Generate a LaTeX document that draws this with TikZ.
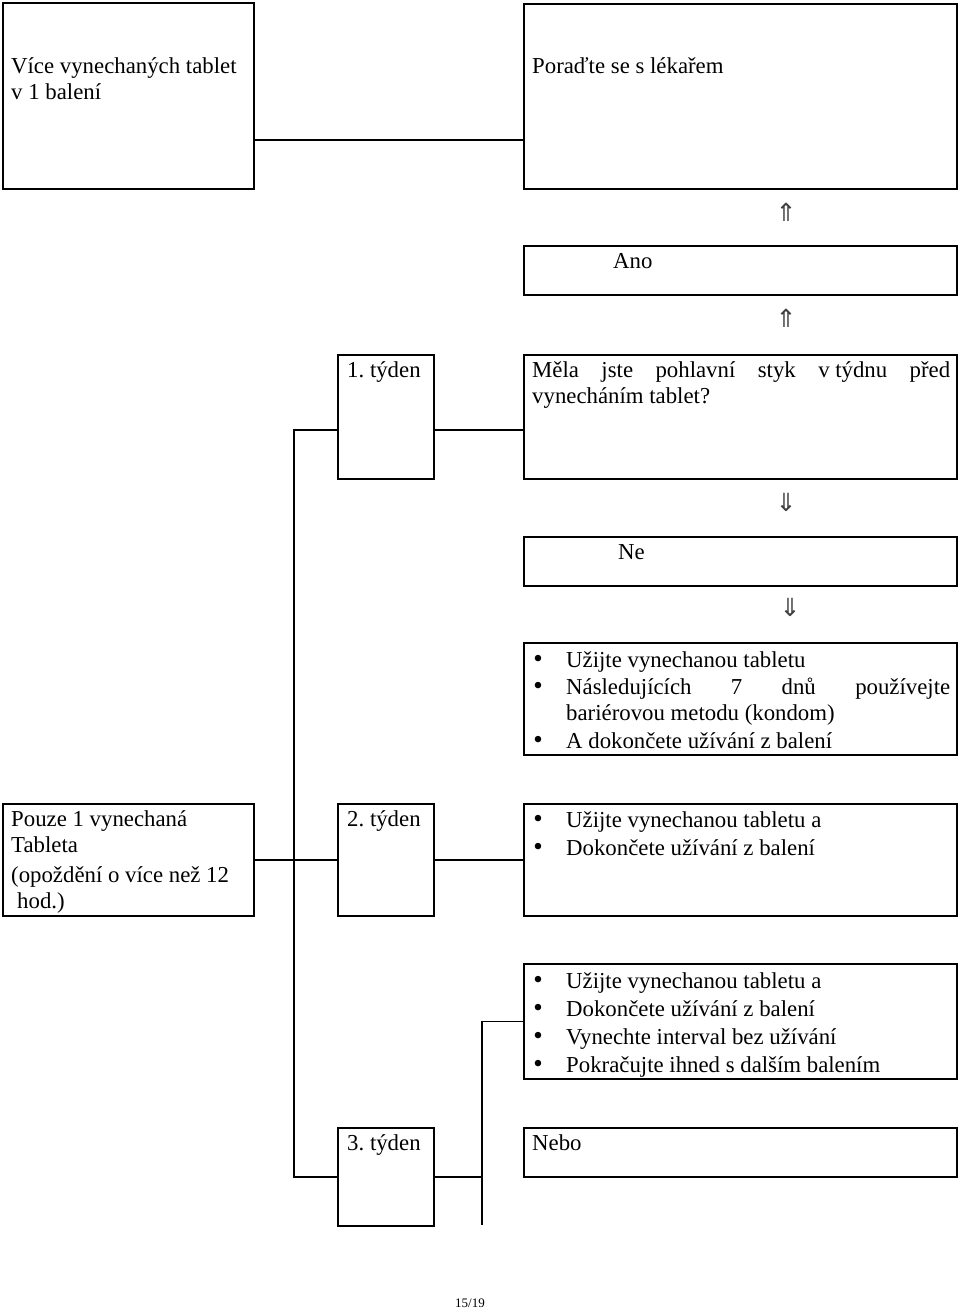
\documentclass[tikz,border=0pt]{standalone}
\usepackage{fontspec}
\setmainfont{Liberation Serif}
\newfontfamily\arrowfont{DejaVu Sans}
\frenchspacing
\begin{document}
\begin{tikzpicture}[x=1pt,y=-1pt,
  box/.style={draw, line width=1.5pt, rectangle, inner sep=0pt, outer sep=0pt, anchor=north west},
  conn/.style={line width=1.3pt},
  txt/.style={anchor=base west, inner sep=0pt, font=\fontsize{22.8}{27}\selectfont\frenchspacing},
  arr/.style={anchor=center, inner sep=0pt, font=\arrowfont\fontsize{25}{28}\selectfont, text=black!75},
  bul/.style={anchor=center, inner sep=0pt, font=\fontsize{27}{27}\selectfont}]
\useasboundingbox[fill=white] (0,0) rectangle (960,1312);

% boxes
\node[box, minimum width=251pt, minimum height=186pt] (A) at (3,3) {};
\node[box, minimum width=433pt, minimum height=185pt] (B) at (524,4) {};
\node[box, minimum width=433pt, minimum height=49pt] (Ano) at (524,246) {};
\node[box, minimum width=96pt, minimum height=124pt] (W1) at (338,355) {};
\node[box, minimum width=433pt, minimum height=124pt] (Q) at (524,355) {};
\node[box, minimum width=433pt, minimum height=49pt] (Ne) at (524,537) {};
\node[box, minimum width=433pt, minimum height=112pt] (L1) at (524,643) {};
\node[box, minimum width=251pt, minimum height=112pt] (P) at (3,804) {};
\node[box, minimum width=96pt, minimum height=112pt] (W2) at (338,804) {};
\node[box, minimum width=433pt, minimum height=112pt] (L2) at (524,804) {};
\node[box, minimum width=433pt, minimum height=115pt] (L3) at (524,964) {};
\node[box, minimum width=96pt, minimum height=98pt] (W3) at (338,1128) {};
\node[box, minimum width=433pt, minimum height=49pt] (N) at (524,1128) {};

% connectors
\draw[conn] ([yshift=49pt]A.south east) -- ([yshift=49pt]B.south west);
\coordinate (t1) at (294,430);
\draw[conn] ([yshift=49pt]W1.south west) -- (t1) -- (t1 |- W3.west) -- (W3.west);
\draw[conn] ([yshift=49pt]W1.south east) -- ([yshift=49pt]Q.south west);
\draw[conn] (P.east) -- (W2.west);
\draw[conn] (W2.east) -- (L2.west);
\coordinate (j3) at (482,1177);
\coordinate (jb) at (482,1225);
\draw[conn] (W3.east) -- (j3);
\draw[conn] (jb) -- (j3 |- L3.west) -- (L3.west);

% arrows
\node[arr] (u1) at (786,212) {⇑};
\node[arr] (u2) at (786,318) {⇑};
\node[arr] (d1) at (786,502) {⇓};
\node[arr] (d2) at (790,607) {⇓};

% texts
\node[txt] (tA1) at (11,73) {Více vynechaných tablet};
\node[txt] (tA2) at (11,99) {v 1 balení};
\node[txt] (tB) at (532,73) {Poraďte se s lékařem};
\node[txt] (tAno) at (613,268) {Ano};
\node[txt] (tW1) at (347,377) {1. týden};
\node[txt] (tQ1) at (532,377) {\makebox[418pt][s]{Měla jste pohlavní styk v\kern0.25em týdnu před}};
\node[txt] (tQ2) at (532,403) {vynecháním tablet?};
\node[txt] (tNe) at (618,559) {Ne};

\node[bul] (b11) at (538,661) {\textbullet};
\node[txt] (l11) at (566,667) {Užijte vynechanou tabletu};
\node[bul] (b12) at (538,688) {\textbullet};
\node[txt] (l12) at (566,694) {\makebox[384pt][s]{Následujících 7 dnů používejte}};
\node[txt] (l13) at (566,720) {bariérovou metodu (kondom)};
\node[bul] (b14) at (538,742) {\textbullet};
\node[txt] (l14) at (566,748) {A dokončete užívání z balení};

\node[txt] (tP1) at (11,826) {Pouze 1 vynechaná};
\node[txt] (tP2) at (11,852) {Tableta};
\node[txt] (tP3) at (11,882) {(opoždění o více než 12};
\node[txt] (tP4) at (17,908) {hod.)};
\node[txt] (tW2) at (347,826) {2. týden};

\node[bul] (b21) at (538,821) {\textbullet};
\node[txt] (l21) at (566,827) {Užijte vynechanou tabletu a};
\node[bul] (b22) at (538,849) {\textbullet};
\node[txt] (l22) at (566,855) {Dokončete užívání z balení};

\node[bul] (b31) at (538,982) {\textbullet};
\node[txt] (l31) at (566,988) {Užijte vynechanou tabletu a};
\node[bul] (b32) at (538,1010) {\textbullet};
\node[txt] (l32) at (566,1016) {Dokončete užívání z balení};
\node[bul] (b33) at (538,1038) {\textbullet};
\node[txt] (l33) at (566,1044) {Vynechte interval bez užívání};
\node[bul] (b34) at (538,1066) {\textbullet};
\node[txt] (l34) at (566,1072) {Pokračujte ihned s dalším balením};

\node[txt] (tW3) at (347,1150) {3. týden};
\node[txt] (tN) at (532,1150) {Nebo};

\node[anchor=base, inner sep=0pt, font=\fontsize{13}{15}\selectfont] (pg) at (470,1307) {15/19};
\end{tikzpicture}
\end{document}
